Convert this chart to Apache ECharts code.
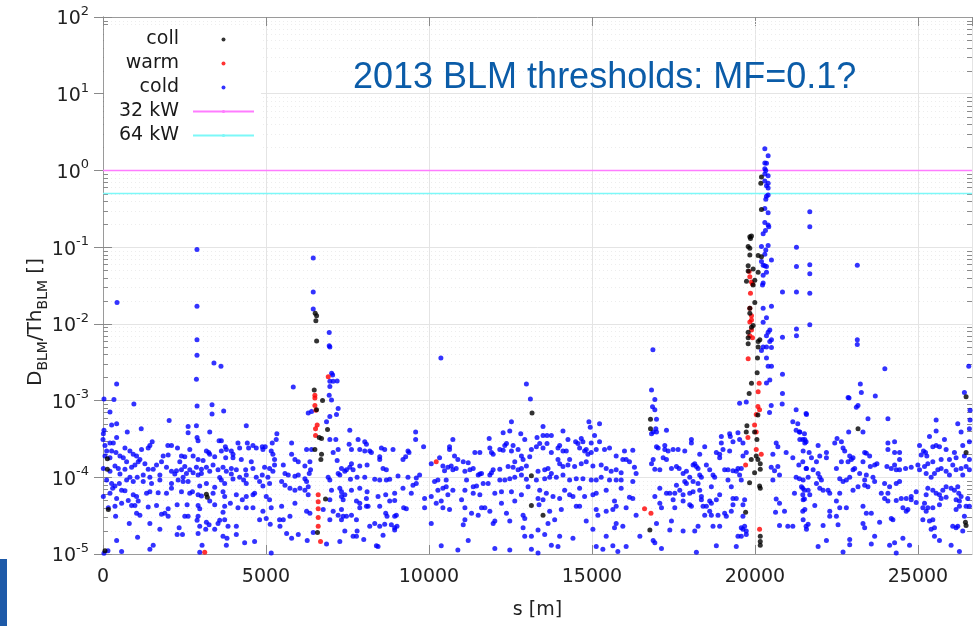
<!DOCTYPE html>
<html>
<head>
<meta charset="utf-8">
<title>2013 BLM thresholds</title>
<script src="https://cdn.jsdelivr.net/npm/echarts@6/dist/echarts.min.js"></script>
<style>
html, body { margin: 0; padding: 0; background: #fff; }
#chart { width: 978px; height: 626px; }
</style>
</head>
<body>
<div id="chart"></div>
<script>
// axis ranges / tick labels
var sMax = 26659;
var xStep = 5000;
var yDecades = [-5, -4, -3, -2, -1, 0, 1];

// threshold lines (32 kW / 64 kW)
var thresholdNames = ['32 kW', '64 kW'];
var thresholdValues = [1.0, 0.5];

// [s in m, D/Th]
var coll = [
  [133,1.75e-4],[133,1.27e-4],[163,3.8e-5],[3172,6.0e-5],[3200,5.5e-5],[61,1.1e-5],
  [6480,1.37e-3],[6735,1.0e-3],[6551,7.6e-4],[6888,4.2e-4],[6633,3.3e-4],[6704,3.2e-4],[6500,2.3e-4],[6704,2.0e-4],[6684,1.7e-4],[6826,5.2e-5],[6580,1.9e-5],
  [6510,0.0138],[6553,0.0128],[6530,0.011],[6553,6.0e-3],
  [13162,6.9e-4],[13142,1.05e-4],[13142,4.3e-5],[13499,3.2e-5],
  [16796,5.7e-4],[16796,4.3e-4],[16776,2.05e-5],
  [20200,0.82],[20180,0.68],[20200,0.31],[19843,0.137],[19894,0.14],[19863,0.13],[19792,0.102],[19843,0.097],[19843,0.079],[20098,0.078],[20200,0.075],
  [19792,0.057],[19945,0.052],[19792,0.049],[20098,0.047],[19741,0.036],[19996,0.037],[19945,0.032],[19996,0.019],[19843,0.016],[19843,0.0137],
  [19945,9.5e-3],[19894,9e-3],[19792,7.8e-3],[19792,6.6e-3],[19792,5.5e-3],[20098,5.9e-3],[20150,6.2e-3],[20098,5e-3],[20078,3.6e-3],[20068,2.3e-3],[19894,1.68e-3],[19823,1.24e-3],
  [20091,6.5e-4],[19754,4.7e-4],[19989,3.9e-4],[20060,3.1e-4],[19734,3.9e-4],[20040,1.9e-4],[19887,1.7e-4],[20091,1.7e-4],[20163,1.5e-4],[20163,1.27e-4],[19989,1.15e-4],
  [19836,8.5e-5],[20142,7.7e-5],[20163,7.2e-5],[19714,3.5e-5],[20163,1.7e-5],[20163,1.45e-5],[20163,1.3e-5],
  [23162,4.3e-4],[26477,1.12e-3],[26477,2.1e-4],[26457,2.6e-5],[26477,2.35e-5]
];

var warm = [
  [3120,1.05e-5],
  [6500,1.17e-3],[6500,1.08e-3],[6500,8.6e-4],[6530,7.5e-4],[6570,4.8e-4],[6520,4.3e-4],[6520,3.5e-4],[6602,5.9e-5],[6602,4.8e-5],[6602,3.9e-5],[6602,3.0e-5],[6602,2.3e-5],[6673,1.45e-5],[6910,2.05e-3],
  [10223,1.6e-4],[16613,3.9e-5],[16810,3.4e-5],
  [19823,0.048],[19843,0.041],[19894,0.035],[19925,0.033],[19863,0.025],[19843,0.016],[19894,0.0128],[19894,0.0112],[19843,0.0106],[19894,8.3e-3],[19925,6.6e-3],[19843,7e-3],[19792,3.5e-3],[20130,1.68e-3],[20098,1.3e-3],
  [20091,8.4e-4],[20142,7.6e-4],[20040,6.6e-4],[19989,4.8e-4],[20040,3.9e-4],[19785,3.3e-4],[20040,2.3e-4],[20193,2.0e-4],[19714,1.45e-4],[20142,2.1e-5]
];

var cold0to5k = [
  [430,0.019],[2883,0.093],[2883,0.017],[2883,6.2e-3],[2883,3.9e-3],[3404,3.1e-3],[3619,2.8e-3],
  [418,1.65e-3],[336,1.03e-3],[30,1.05e-3],[948,9e-4],[2866,1.9e-3],[2886,8.5e-4],[3345,8.8e-4],[3345,6.7e-4],[3702,7.3e-4],[214,7.1e-4],[2030,5.5e-4],[30,4.1e-4],[265,4.8e-4],[418,5.0e-4],[1173,4.3e-4],[2611,4.6e-4],[2611,3.8e-4],[2866,4.7e-4],[3274,3.9e-4],[4396,4.7e-4],[5334,3.7e-4],[10,3.7e-4],[0,3.1e-4],[418,3.3e-4],[744,3.9e-4],[2886,3.3e-4],[2917,3.0e-4],[3560,3.0e-4],[3631,3.0e-4],[3753,2.5e-4],[1509,2.9e-4],[1438,2.6e-4],[1989,2.6e-4],[2101,2.6e-4],[4141,2.8e-4],[4427,2.8e-4],[4600,2.6e-4],[4886,2.5e-4],[5192,2.8e-4],[5314,3.1e-4],[214,2.8e-4],[316,2.8e-4],[61,2.6e-4],
  [112,2.2e-4],[265,2.2e-4],[398,2.1e-4],[673,2.4e-4],[826,2.2e-4],[1183,2.3e-4],[1387,2.4e-4],[2285,2.4e-4],[2662,2.3e-4],[3172,2.2e-4],[3243,2.1e-4],[3631,2.2e-4],[3784,2.3e-4],[3937,2.2e-4],[3988,2.0e-4],[4192,2.4e-4],[4467,2.4e-4],[4702,2.4e-4],[4906,2.3e-4],[4977,2.5e-4],[5161,2.2e-4],[520,1.9e-4],[622,1.8e-4],[928,2.0e-4],[1030,1.9e-4],[1846,1.9e-4],[1999,1.95e-4],[2407,1.9e-4],[2509,1.85e-4],[2764,1.9e-4],[2917,1.7e-4],[3070,1.65e-4],[3274,2.0e-4],[3427,1.85e-4],[3764,1.8e-4],[3988,1.8e-4],[4243,1.7e-4],[4549,1.6e-4],[5212,2.0e-4],[5263,1.7e-4],[61,1.9e-4],[214,1.8e-4],[724,1.6e-4],[1081,1.6e-4],[1132,1.7e-4],[2356,1.6e-4],[1795,1.6e-4],
  [367,1.4e-4],[469,1.3e-4],[673,1.27e-4],[877,1.35e-4],[979,1.45e-4],[1285,1.5e-4],[1387,1.27e-4],[1540,1.27e-4],[1642,1.45e-4],[1948,1.35e-4],[2101,1.2e-4],[2254,1.22e-4],[2407,1.25e-4],[2509,1.38e-4],[2662,1.25e-4],[2866,1.35e-4],[3019,1.27e-4],[3172,1.35e-4],[3376,1.45e-4],[3529,1.25e-4],[3682,1.35e-4],[3784,1.2e-4],[3937,1.3e-4],[4090,1.25e-4],[4376,1.25e-4],[4600,1.3e-4],[4957,1.35e-4],[5110,1.3e-4],[5263,1.45e-4],[10,1.3e-4],[214,1.2e-4],[520,1.1e-4],[826,1.0e-4],[1050,1.0e-4],[1234,1.07e-4],[1438,1.0e-4],[1744,1.07e-4],[2203,1.1e-4],[2458,1.0e-4],[2560,1.12e-4],[2764,1.15e-4],[2917,1.07e-4],[3019,1.12e-4],[3274,1.2e-4],[3580,9.9e-5],[3937,1.1e-4],[4192,1.0e-4],[4396,1.07e-4],[4702,1.0e-4],[4886,1.07e-4],[5059,1.0e-4],[5212,1.2e-4],
  [112,9.2e-5],[265,8.3e-5],[367,7.7e-5],[500,8.3e-5],[724,9.2e-5],[928,8.8e-5],[1234,8.8e-5],[1489,8.3e-5],[1744,9.2e-5],[2101,8.3e-5],[2305,9.2e-5],[2458,8.8e-5],[2611,8.8e-5],[2968,7.7e-5],[3172,8.3e-5],[3427,7.4e-5],[3631,9.2e-5],[3733,8.3e-5],[3988,9.5e-5],[4314,9.2e-5],[4396,8.3e-5],[4804,8.8e-5],[4906,7.7e-5],[5110,8.3e-5],
  [296,7.2e-5],[571,6.8e-5],[214,6.2e-5],[673,6.7e-5],[928,5.9e-5],[1030,5.6e-5],[1336,6.2e-5],[1438,6.5e-5],[1693,6.3e-5],[1948,6.2e-5],[2101,7.2e-5],[2407,6.5e-5],[2662,6.2e-5],[2744,6.5e-5],[2917,5.9e-5],[3019,5.7e-5],[3376,6.2e-5],[3682,6.5e-5],[3733,5.6e-5],[4090,5.9e-5],[4396,5.6e-5],[4600,5.9e-5],[4651,6.2e-5],[5008,5.6e-5],[5110,5.1e-5],[10,5.6e-5],[418,5.3e-5],[571,4.6e-5],[775,5.0e-5],
  [163,4.0e-5],[367,4.2e-5],[877,4.3e-5],[979,4.3e-5],[1081,4.9e-5],[1387,4.1e-5],[1642,4.3e-5],[1999,3.9e-5],[2274,4.4e-5],[2580,4.4e-5],[2917,4.3e-5],[2968,3.9e-5],[3274,4.9e-5],[3427,4.4e-5],[3733,4.2e-5],[3906,4.6e-5],[4141,4.0e-5],[4274,5.1e-5],[4396,4.0e-5],[4600,4.0e-5],[4906,3.6e-5],[5161,4.0e-5],[387,3.1e-5],[1030,3.4e-5],[1132,3.2e-5],[1795,3.3e-5],[1897,3.4e-5],[1999,3.1e-5],[2509,3.1e-5],[2611,3.1e-5],[2917,3.1e-5],[3682,3.5e-5],
  [806,2.5e-5],[1438,2.5e-5],[2886,2.75e-5],[2968,2.3e-5],[3172,2.6e-5],[3254,2.4e-5],[3529,2.5e-5],[3580,2.75e-5],[3733,2.8e-5],[3835,2.3e-5],[4090,2.3e-5],[4804,2.8e-5],[5008,2.9e-5],[5130,2.45e-5],[5416,2.8e-5],[1744,2.1e-5],[2336,2.2e-5],[2438,1.8e-5],[2274,1.8e-5],[2917,1.85e-5],[3152,2.1e-5],[3427,2.1e-5],
  [418,1.5e-5],[1061,1.65e-5],[1540,1.3e-5],[1438,1.15e-5],[571,1.08e-5],[153,1.1e-5],[2968,1.05e-5],[3039,1.3e-5],[3682,1.7e-5],[3804,1.6e-5],[3784,1.3e-5],[4090,1.8e-5],[4345,1.4e-5],[4651,1.45e-5],[5161,1.03e-5],[30,1.02e-5]
];

var cold5kto11k = [
  [6450,0.072],[6450,0.026],[6450,0.0156],[6940,7.7e-3],[6940,5.2e-3],[6960,5.0e-3],[7014,2.27e-3],[7045,2.15e-3],[6960,1.78e-3],[7060,1.78e-3],[7183,1.8e-3],[6960,1.52e-3],[5837,1.5e-3],[10366,3.6e-3],
  [6939,1.17e-3],[7010,1.02e-3],[7214,7.9e-4],[7163,6.6e-4],[6296,6.9e-4],[6398,7.2e-4],[6959,6.2e-4],[6857,5.3e-4],[6959,3.1e-4],[7143,3.1e-4],[7571,4.1e-4],[7551,2.7e-4],[7622,2.3e-4],[7826,3.1e-4],[8030,2.9e-4],[8081,2.7e-4],[7877,2.3e-4],[8030,2.2e-4],[8183,2.2e-4],[8234,2.1e-4],[8540,2.4e-4],[8642,2.3e-4],[8897,2.3e-4],[9356,2.2e-4],[9591,3.9e-4],[9591,3.1e-4],[9835,2.5e-4],[5786,2.8e-4],[5786,2.0e-4],[5888,1.7e-4],[5990,1.6e-4],[6245,2.3e-4],[6398,2.3e-4],[6347,1.6e-4],[7061,2.1e-4],[7214,2.3e-4],[7183,1.65e-4],[7469,1.25e-4],[7571,1.35e-4],[7622,1.5e-4],[7673,1.25e-4],[7418,1.2e-4],[7316,1.3e-4],[7265,1.07e-4],[7877,1.4e-4],[8101,1.45e-4],[8489,1.7e-4],[8489,1.85e-4],[8591,1.3e-4],[8693,1.25e-4],[9203,1.7e-4],[9285,1.85e-4],[9387,2.1e-4],
  [5531,1.45e-4],[5582,1.12e-4],[5684,1.07e-4],[5888,1.03e-4],[5990,1.07e-4],[6194,9.6e-5],[6245,8.8e-5],[6327,1.12e-4],[6367,1.25e-4],[6194,1.4e-4],[5480,8.8e-5],[5582,7.9e-5],[5735,7.2e-5],[5888,6.8e-5],[6041,7.2e-5],[6194,6.8e-5],[6296,7.5e-5],[6908,1.0e-4],[6959,9.2e-5],[7214,1.12e-4],[7591,9.4e-5],[7795,1.0e-4],[8030,1.0e-4],[8336,9.4e-5],[8489,9.2e-5],[8693,9.2e-5],[8795,9.4e-5],[9050,1.04e-4],[9356,1.0e-4],[9611,9.8e-5],[9713,1.07e-4],
  [7010,6.8e-5],[7265,7.2e-5],[7316,6.5e-5],[7418,5.9e-5],[7622,6.8e-5],[7877,7.2e-5],[8101,6.5e-5],[8438,5.6e-5],[8673,5.9e-5],[8948,6.2e-5],[9203,7.2e-5],[9509,7.9e-5],[9611,8.3e-5],[9458,6.2e-5],[8795,4.9e-5],[8948,5.0e-5],[8081,5.3e-5],[8132,4.2e-5],[7877,4.6e-5],[7775,4.9e-5],[7316,5.6e-5],[7367,5.1e-5],[6959,5.1e-5],[5888,4.6e-5],[5480,4.2e-5],[6296,5.9e-5],[6245,3.6e-5],
  [7214,3.2e-5],[7316,2.8e-5],[7367,3.1e-5],[7469,3.1e-5],[7622,3.2e-5],[7775,2.8e-5],[7316,3.8e-5],[6755,3.8e-5],[7061,3.6e-5],[7877,4.0e-5],[8081,4.2e-5],[8489,4.2e-5],[8673,3.4e-5],[8713,3.1e-5],[8948,3.1e-5],[8999,3.2e-5],[9223,4.0e-5],[9305,3.9e-5],[9866,5.3e-5],[9866,4.0e-5],
  [5735,3.1e-5],[5531,2.8e-5],[5429,2.3e-5],[6347,3.4e-5],[6959,2.8e-5],[8183,2.3e-5],[8336,2.5e-5],[8642,2.45e-5],[8846,2.4e-5],[8948,2.2e-5],[9019,2.3e-5],[8948,2.05e-5],[8489,2.3e-5],[7795,2.0e-5],[7775,1.7e-5],[7673,1.7e-5],[7999,1.55e-5],[7418,2.0e-5],[7265,1.45e-5],[6857,1.35e-5],[6449,1.9e-5],[6265,1.5e-5],[5990,1.8e-5],[5786,1.6e-5],[5633,1.85e-5],[8387,1.28e-5],[8438,1.25e-5],[8591,1.75e-5],
  [10070,1.5e-4],[10325,1.8e-4],[10427,1.4e-4],[10580,1.35e-4],[10682,1.4e-4],[10733,1.25e-4],[10835,1.3e-4],[10478,1.22e-4],[10274,9.2e-5],[10274,6.8e-5],[10427,7.2e-5],[10529,7.5e-5],[10580,5.9e-5],[10733,6.8e-5],[10070,5.6e-5],[10223,4.6e-5],[10376,4.9e-5],[10427,4.0e-5],[10631,3.8e-5],[10529,9.2e-5],[10070,2.5e-5],[10376,1.28e-5],[10886,1.13e-5],[10172,8.8e-5],[10631,2.3e-4],[10733,3.1e-4],[10631,2.5e-4],[10784,1.9e-4],[10886,1.7e-4]
];

var cold11kto16k = [
  [12989,1.65e-3],[13111,1.05e-3],[12530,5.3e-4],[12275,3.8e-4],[12479,4.0e-4],[11847,3.2e-4],[12816,3.7e-4],[13499,4.6e-4],[13621,3.5e-4],[13754,3.5e-4],[13499,3.5e-4],[13315,3.3e-4],[14111,4.0e-4],[14264,3.1e-4],[14499,2.9e-4],[14672,3.2e-4],[14723,2.9e-4],[14907,5.3e-4],[14947,4.5e-4],[15233,5.0e-4],[15080,3.5e-4],[14978,2.8e-4],[15233,2.9e-4],
  [11408,2.1e-4],[11561,2.1e-4],[11867,2.4e-4],[11918,2.1e-4],[11969,2.0e-4],[12173,2.3e-4],[12275,2.25e-4],[12326,2.6e-4],[12377,2.75e-4],[12530,2.2e-4],[12581,2.6e-4],[12734,2.3e-4],[12938,3.1e-4],[13142,2.3e-4],[13295,2.5e-4],[13397,2.75e-4],[13499,2.4e-4],[13621,2.75e-4],[13754,2.1e-4],[13958,2.4e-4],[14009,2.6e-4],[14111,2.2e-4],[14213,2.2e-4],[14570,2.75e-4],[14621,2.4e-4],[14774,2.2e-4],[14825,2.3e-4],[14876,2.0e-4],[14978,2.1e-4],[15131,2.3e-4],[15386,2.3e-4],[15539,2.4e-4],[15743,1.9e-4],[15998,2.2e-4],[16253,2.25e-4],[16049,1.7e-4],[16151,1.6e-4],[15947,1.7e-4],
  [11051,1.6e-4],[11204,1.55e-4],[11102,1.2e-4],[11255,1.25e-4],[11357,1.3e-4],[11510,1.07e-4],[11561,1.1e-4],[11612,1.12e-4],[11867,1.07e-4],[11918,1.15e-4],[11969,1.25e-4],[12173,1.27e-4],[12428,1.38e-4],[12581,1.35e-4],[12632,1.6e-4],[12836,1.9e-4],[12887,1.7e-4],[12734,1.25e-4],[12836,1.3e-4],[12989,1.4e-4],[13091,1.85e-4],[13346,1.2e-4],[13550,1.25e-4],[13652,1.3e-4],[13754,1.12e-4],[13958,1.7e-4],[14009,1.5e-4],[14111,1.38e-4],[14264,1.45e-4],[14315,1.7e-4],[14468,1.38e-4],[14672,1.5e-4],[14825,1.6e-4],[15029,1.4e-4],[15284,1.45e-4],[15437,1.3e-4],[15590,1.2e-4],[15743,1.25e-4],[15896,1.15e-4],[16304,1.35e-4],[16355,1.12e-4],
  [11153,9.2e-5],[11357,7.5e-5],[11459,7.7e-5],[11663,8.3e-5],[11816,8.3e-5],[12173,9.2e-5],[12326,9.2e-5],[12479,9.6e-5],[12632,1.0e-4],[12836,1.07e-4],[12989,9.4e-5],[13295,9.2e-5],[13550,9.6e-5],[13703,1.0e-4],[13907,1.0e-4],[14111,1.07e-4],[14315,9.2e-5],[14519,9.6e-5],[14723,9.6e-5],[14978,9.2e-5],[15131,9.2e-5],[15284,1.0e-4],[15539,9.2e-5],[15743,9.2e-5],[15896,9.2e-5],[16253,8.8e-5],
  [11102,6.8e-5],[11357,6.2e-5],[11561,5.9e-5],[12020,6.2e-5],[12224,6.5e-5],[12530,6.5e-5],[12836,5.9e-5],[13040,7.5e-5],[13397,6.8e-5],[13601,6.2e-5],[13805,5.6e-5],[14009,5.3e-5],[14162,6.8e-5],[14315,5.9e-5],[14417,5.6e-5],[14621,7.2e-5],[14774,5.6e-5],[15029,5.9e-5],[15131,6.2e-5],[15437,6.8e-5],[15692,4.9e-5],[15896,7.2e-5],[16151,5.5e-5],[16253,5.3e-5],
  [11000,5.1e-5],[11102,4.0e-5],[11306,3.4e-5],[11510,3.2e-5],[11612,4.0e-5],[11714,4.0e-5],[11867,3.6e-5],[12224,4.6e-5],[12377,3.4e-5],[12632,4.9e-5],[12887,3.2e-5],[12938,2.9e-5],[13346,5.3e-5],[13377,4.4e-5],[13499,5.1e-5],[13703,3.6e-5],[13856,2.8e-5],[13652,2.5e-5],[14060,3.8e-5],[14519,4.2e-5],[14621,4.2e-5],[15131,3.8e-5],[15182,3.2e-5],[15437,3.6e-5],[15641,3.8e-5],[15743,4.2e-5],[16049,4.0e-5],[16355,3.2e-5],
  [11102,2.8e-5],[11051,2.4e-5],[11969,2.5e-5],[12020,2.7e-5],[12479,2.7e-5],[12887,2.2e-5],[12938,1.7e-5],[13142,1.7e-5],[13346,2.05e-5],[13550,1.8e-5],[13754,1.3e-5],[13958,1.25e-5],[14009,1.7e-5],[14417,1.6e-5],[14825,2.7e-5],[15029,2.1e-5],[15437,1.7e-5],[15692,2.2e-5],[15743,2.5e-5],[15947,2.3e-5],[15641,1.28e-5],[15794,1.08e-5],[16049,1.25e-5],[11204,1.5e-5],[12020,1.18e-5],[12479,1.13e-5],[13142,1.15e-5],[13346,1.03e-5],[15131,1.25e-5],[15335,1.15e-5]
];

var cold16kto21k = [
  [16827,1.37e-3],[16929,1.03e-3],[16858,8.3e-4],[16929,7.6e-4],[16980,5.7e-4],[16960,4.3e-4],[16878,3.9e-4],[16827,3.7e-4],[16980,3.9e-4],[17286,4.1e-4],[16870,4.6e-3],[19530,9.2e-4],[19734,9.6e-4],
  [21264,7.6e-4],[21570,6.8e-4],[21162,5.3e-4],[21315,5.0e-4],[21264,4.1e-4],[21366,3.9e-4],[21519,3.7e-4],[21468,3.1e-4],[21570,2.9e-4],[20652,2.8e-4],[20703,2.5e-4],[20958,2.1e-4],[21162,1.8e-4],[21468,1.6e-4],[21346,1.45e-4],[21570,1.3e-4],[20550,2.0e-4],[20499,1.35e-4],[20601,1.22e-4],[20703,1.38e-4],[20754,1.07e-4],[20550,9.2e-5],[21264,1.0e-4],[21366,9.6e-5],[21468,7.2e-5],[21519,6.8e-5],[21213,6.2e-5],[21468,5.9e-5],[21519,5.2e-5],[20652,5.2e-5],[20754,4.6e-5],[20907,3.6e-5],[21468,3.6e-5],[20632,3.5e-5],[21570,2.3e-5],[20754,2.35e-5],[21009,2.3e-5],[21162,2.3e-5],
  [16980,2.5e-4],[17031,2.4e-4],[17235,2.3e-4],[17235,2.6e-4],[17337,2.2e-4],[17490,2.3e-4],[17643,2.3e-4],[17847,2.2e-4],[18051,3.1e-4],[18051,2.8e-4],[18306,2.0e-4],[18459,2.5e-4],[18816,2.1e-4],[18918,2.0e-4],[18918,1.8e-4],[19020,2.3e-4],[18969,3.4e-4],[18969,2.8e-4],[19224,3.7e-4],[19244,3.4e-4],[19326,2.9e-4],[19479,3.8e-4],[19530,3.1e-4],[19632,2.8e-4],[19632,1.9e-4],[19734,2.1e-4],[19224,2.2e-4],
  [16878,1.7e-4],[16827,1.5e-4],[16929,1.27e-4],[17082,1.25e-4],[17184,1.8e-4],[17286,1.7e-4],[17439,1.3e-4],[17592,1.38e-4],[17674,1.3e-4],[17796,1.12e-4],[17898,1.2e-4],[18000,1.0e-4],[18102,1.45e-4],[18153,1.5e-4],[18204,1.38e-4],[18255,1.3e-4],[18306,1.07e-4],[18357,1.0e-4],[18510,1.45e-4],[18612,1.25e-4],[18714,1.07e-4],[18765,1.0e-4],[19071,1.25e-4],[19173,1.25e-4],[19173,9.2e-5],[19326,1.22e-4],[19428,1.2e-4],[19479,1.3e-4],[19581,1.3e-4],[19530,1.07e-4],[19581,9.2e-5],[19275,7.5e-5],[17592,7.9e-5],[17694,6.8e-5],[17847,8.8e-5],[17898,8.3e-5],[18102,8.8e-5],[18255,8.3e-5],[18306,6.8e-5],[18663,7.5e-5],
  [17082,7.2e-5],[17286,6.2e-5],[17388,6.2e-5],[17541,6.2e-5],[17796,5.9e-5],[18000,6.2e-5],[18102,6.5e-5],[16929,5.6e-5],[17082,4.6e-5],[17133,4.0e-5],[17490,5.1e-5],[17541,4.0e-5],[17796,4.9e-5],[18000,4.4e-5],[18051,4.2e-5],[18357,5.6e-5],[18357,5.1e-5],[18408,4.2e-5],[18510,4.2e-5],[18612,4.9e-5],[18663,4.6e-5],[18816,5.1e-5],[18918,5.9e-5],[19326,5.3e-5],[19428,5.3e-5],[19326,4.4e-5],[19683,5.1e-5],[19632,4.4e-5],[18612,3.6e-5],[18459,3.2e-5],[18663,3.2e-5],[18867,3.2e-5],[19071,3.4e-5],[19122,3.1e-5],[19275,3.6e-5],[19632,3.1e-5],[19683,2.3e-5],[19581,2.2e-5],[19632,2.1e-5],[18714,2.3e-5],[18918,2.3e-5],[18255,2.3e-5],[18153,2.0e-5],[17796,2.0e-5],[17388,2.05e-5],[16980,2.5e-5],[17439,2.7e-5],[16470,1.7e-5],[16878,1.5e-5],[16929,1.4e-5],[17133,1.18e-5],[18204,1.05e-5],[18816,1.28e-5],[19428,1.25e-5],[19479,1.7e-5],[19581,1.7e-5],[19734,1.8e-5],[19734,2.0e-5]
];

var coldPeak = [
  [20303,1.92],[20405,1.55],[20303,1.25],[20354,1.24],[20303,1.05],[20333,1.0],[20303,0.9],[20405,0.85],[20303,0.73],[20405,0.68],[20354,0.63],[20405,0.59],[20354,0.46],[20405,0.48],[20333,0.42],[20303,0.32],[20405,0.28],[20303,0.21],[20405,0.195],[20425,0.185],[20252,0.15],[20323,0.165],
  [20200,0.102],[20405,0.105],[20333,0.092],[20303,0.081],[20507,0.068],[20200,0.065],[20252,0.058],[20303,0.057],[20354,0.056],[20354,0.047],[20252,0.043],[20252,0.034],[20232,0.032],[20252,0.016],[20507,0.017],[20354,0.012],[20252,0.0105],
  [20456,8.3e-3],[20405,7.8e-3],[20354,7e-3],[20507,6.2e-3],[20456,5.9e-3],[20252,5e-3],[20354,5e-3],[20507,4.9e-3],[20200,4.5e-3],[20354,3.6e-3],[20405,2.8e-3],[20507,2.8e-3],[20456,1.86e-3],[20354,1.7e-3],
  [21683,0.29],[21683,0.185],[21274,0.1],[21274,0.056],[21683,0.059],[21683,0.045],[20845,0.026],[21274,0.026],[21683,0.025],[21683,9.7e-3],[21274,8.6e-3],[21274,7e-3],[20845,6.7e-3],[20845,2.2e-3],[20845,1.24e-3],[22858,1.1e-3],
  [20836,9e-4],[20499,8.6e-4],[20448,7e-4]
];

var cold21kto27k = [
  [23140,0.058],[23140,6.2e-3],[23140,5.4e-3],[23985,2.6e-3],[26560,2.8e-3],
  [23233,1.65e-3],[23264,1.27e-3],[22887,1.08e-3],[23162,8.6e-4],[23111,8.2e-4],[23692,1.15e-3],[23468,5.8e-4],[24080,5.8e-4],[23315,3.9e-4],[22876,3.9e-4],[21581,6.6e-4],[25559,5.6e-4],[25559,4.0e-4],[25355,3.4e-4],[26222,5.0e-4],[26324,3.9e-4],[26426,1.27e-3],[26599,7.5e-4],[26599,5.6e-4],[26579,4.3e-4],[26579,2.9e-4],[26579,1.7e-4],[26579,1.25e-4],
  [21377,3.9e-4],[21377,3.1e-4],[21530,3.1e-4],[21530,2.8e-4],[21479,2.2e-4],[21663,2.1e-4],[21938,2.6e-4],[21734,1.8e-4],[21887,1.6e-4],[21989,1.9e-4],[22193,2.1e-4],[22193,1.8e-4],[22448,2.8e-4],[22519,3.2e-4],[22652,2.9e-4],[22703,2.4e-4],[22754,2.2e-4],[22907,1.9e-4],[22958,1.7e-4],[23009,1.8e-4],[22856,1.6e-4],[22652,1.6e-4],[22499,1.3e-4],[22601,9.6e-5],[22703,8.8e-5],[22805,9.2e-5],[22907,1.0e-4],[23009,1.25e-4],[23060,1.3e-4],[23213,1.12e-4],[23315,1.6e-4],[23366,2.1e-4],[23417,2.05e-4],[23519,1.9e-4],[23539,1.38e-4],[23672,1.45e-4],[23417,1.07e-4],[23366,9.2e-5],[23621,1.0e-4],[23743,1.5e-4],
  [24080,2.8e-4],[24080,2.3e-4],[24284,2.9e-4],[24284,2.1e-4],[24437,2.1e-4],[24437,1.7e-4],[24284,1.45e-4],[24049,1.38e-4],[24182,1.3e-4],[24335,1.25e-4],[24437,1.25e-4],[24621,1.3e-4],[24794,1.35e-4],[25049,2.6e-4],[25171,2.2e-4],[25233,2.1e-4],[25100,1.95e-4],[25273,1.9e-4],[25457,2.5e-4],[25559,2.6e-4],[25661,2.5e-4],[25814,3.1e-4],[25865,2.3e-4],[26120,2.1e-4],[26171,1.8e-4],[26375,2.6e-4],[26426,1.9e-4],[26477,1.38e-4],[26069,1.45e-4],[25967,1.7e-4],[25712,1.7e-4],[25457,1.6e-4],[25304,1.5e-4],[25202,1.38e-4],[24998,1.45e-4],[25049,1.25e-4],[25253,1.12e-4],[25406,1.0e-4],[25508,1.12e-4],[25610,1.25e-4],[25712,1.3e-4],[25865,1.2e-4],[25967,1.07e-4],[26171,1.25e-4],[26324,1.3e-4],[26375,1.07e-4],
  [21581,1.3e-4],[21785,1.25e-4],[21632,1.0e-4],[21938,1.12e-4],[21989,1.0e-4],[22040,9.2e-5],[21479,9.2e-5],[21428,7.5e-5],[21632,6.8e-5],[21683,5.9e-5],[21887,8.3e-5],[21989,7.2e-5],[22091,6.8e-5],[22244,6.8e-5],[22295,6.2e-5],[22601,6.2e-5],[22499,4.9e-5],[22601,4.0e-5],[22805,4.0e-5],[23009,6.8e-5],[23162,7.5e-5],[23366,7.9e-5],[23468,7.5e-5],[23672,8.8e-5],[23978,8.3e-5],[24131,7.5e-5],[24335,8.3e-5],[24437,8.8e-5],[24080,6.2e-5],[23978,5.3e-5],[23876,6.2e-5],[24335,5.0e-5],[24488,5.3e-5],[24641,5.3e-5],[24794,5.6e-5],[24794,5.1e-5],[24641,3.6e-5],[24692,3.8e-5],[24539,4.0e-5],[24182,2.9e-5],[24233,2.8e-5],[24080,4.9e-5],
  [24947,6.5e-5],[25304,7.2e-5],[25457,6.8e-5],[25559,6.2e-5],[25661,5.9e-5],[25763,6.8e-5],[25865,7.5e-5],[26018,7.2e-5],[26120,6.8e-5],[26222,7.5e-5],[26253,6.2e-5],[26324,5.6e-5],[26273,4.9e-5],[26171,5.1e-5],[25865,5.5e-5],[25712,5.3e-5],[25253,5.9e-5],[25202,4.6e-5],[25151,4.0e-5],[24947,4.7e-5],[25304,4.0e-5],[25457,4.0e-5],[25661,4.4e-5],[26273,4.2e-5],[26171,3.8e-5],[26477,4.2e-5],[26528,5.3e-5],
  [21479,5.1e-5],[21530,3.8e-5],[21836,4.3e-5],[21479,2.8e-5],[21632,2.45e-5],[21581,2.1e-5],[22091,2.35e-5],[22295,3.6e-5],[22295,3.1e-5],[22499,3.1e-5],[22550,2.4e-5],[23315,4.2e-5],[23417,3.4e-5],[23570,3.4e-5],[23825,2.6e-5],[23315,2.5e-5],[23366,2.2e-5],[23672,1.7e-5],[23570,1.35e-5],[22907,1.55e-5],[22907,1.32e-5],[22193,1.5e-5],[21938,1.25e-5],[22703,1.06e-5],[24131,1.3e-5],[24284,1.4e-5],[24335,1.03e-5],[24539,1.6e-5],[24743,1.3e-5],[25253,3.6e-5],[25151,2.8e-5],[25355,2.7e-5],[25457,2.8e-5],[25406,2.1e-5],[25508,1.7e-5],[25661,1.5e-5],[25508,2.2e-5],[26069,2.3e-5],[26171,2.2e-5],[26222,2.3e-5],[26375,2.0e-5],[26018,1.3e-5],[26273,1.08e-5],[26426,3.1e-5],[26579,4.2e-5]
];

var cold = [].concat(cold0to5k, cold5kto11k, cold11kto16k, cold16kto21k, coldPeak, cold21kto27k);

var font = 'DejaVu Sans';
var axisGrey = '#9a9a9a';
var tickGrey = '#8a8a8a';

// log minor ticks (2..9 of each decade) on left and right edges, plus faint dotted grid
function renderMinor(params, api) {
  var cs = params.coordSys;
  var x0 = cs.x, x1 = cs.x + cs.width;
  var kids = [];
  yDecades.forEach(function (d) {
    for (var k = 2; k <= 9; k++) {
      var y = Math.round(api.coord([0, k * Math.pow(10, d)])[1]) + 0.5;
      kids.push({ type: 'line', shape: { x1: x0, y1: y, x2: x1, y2: y }, style: { stroke: '#ededed', lineWidth: 1, lineDash: [1, 3] } });
      kids.push({ type: 'line', shape: { x1: x0, y1: y, x2: x0 + 5, y2: y }, style: { stroke: tickGrey, lineWidth: 1 } });
      kids.push({ type: 'line', shape: { x1: x1 - 5, y1: y, x2: x1, y2: y }, style: { stroke: tickGrey, lineWidth: 1 } });
    }
  });
  return { type: 'group', children: kids };
}

function expLabel(v) {
  var e = Math.round(Math.log10(v));
  return '{b|10}{e|' + e + '}';
}

var labelRich = {
  b: { fontSize: 19, fontFamily: font, color: '#222', lineHeight: 24, verticalAlign: 'bottom' },
  e: { fontSize: 13, fontFamily: font, color: '#222', lineHeight: 13, verticalAlign: 'top' }
};

var xAxisBase = {
  type: 'value', min: 0, max: sMax, interval: xStep,
  axisLine: { show: true, onZero: false, lineStyle: { color: axisGrey, width: 1 } },
  axisTick: { show: true, inside: true, length: 9, lineStyle: { color: tickGrey } }
};

var yAxisBase = {
  type: 'log', logBase: 10, min: 1e-5, max: 100, splitNumber: 7,
  axisLine: { show: true, lineStyle: { color: axisGrey, width: 1 } },
  axisTick: { show: true, inside: true, length: 9, lineStyle: { color: tickGrey } }
};

var chart = echarts.init(document.getElementById('chart'));

var series = [];
thresholdNames.forEach(function (name, i) {
  series.push({
    name: name, type: 'line', silent: true, symbol: 'none', showSymbol: false,
    data: [[0, thresholdValues[i]], [sMax, thresholdValues[i]]],
    lineStyle: { color: i === 0 ? '#ff7cff' : '#7cf8f8', width: 1.5 },
    itemStyle: { color: i === 0 ? '#ff7cff' : '#7cf8f8' },
    z: 2
  });
});
series.push({ name: 'cold', type: 'scatter', symbolSize: 5, data: cold, itemStyle: { color: '#0000ff' }, z: 3 });
series.push({ name: 'warm', type: 'scatter', symbolSize: 5, data: warm, itemStyle: { color: '#ff0000' }, z: 4 });
series.push({ name: 'coll', type: 'scatter', symbolSize: 5, data: coll, itemStyle: { color: '#000000' }, z: 5 });
series.push({ type: 'custom', silent: true, renderItem: renderMinor, data: [[0, 1]], z: 1 });

var option = {
  animation: false,
  backgroundColor: '#ffffff',
  grid: { left: 103, right: 6, top: 17, bottom: 72, containLabel: false },
  legend: {
    orient: 'vertical', left: 104, top: 28, align: 'right',
    itemWidth: 61, itemHeight: 4, itemGap: 5,
    backgroundColor: '#ffffff', padding: [2, 6, 6, 0],
    selectedMode: false,
    data: ['coll', 'warm', 'cold', '32 kW', '64 kW'],
    formatter: function (n) { return '{t|' + n + '}'; },
    textStyle: {
      rich: { t: { width: 75, align: 'right', fontSize: 19, lineHeight: 24, fontFamily: font, color: '#1a1a1a', padding: [0, 9, 0, 0] } }
    }
  },
  xAxis: [
    Object.assign({}, xAxisBase, {
      position: 'bottom',
      name: 's [m]', nameLocation: 'middle', nameGap: 47,
      nameTextStyle: { fontSize: 19, fontFamily: font, color: '#222' },
      axisLabel: { margin: 14, fontSize: 19, fontFamily: font, color: '#222', showMaxLabel: false, formatter: function (v) { return String(v); } },
      splitLine: { show: true, lineStyle: { color: '#e4e4e4', width: 1 } }
    }),
    Object.assign({}, xAxisBase, { position: 'top', axisLabel: { show: false }, splitLine: { show: false } })
  ],
  yAxis: [
    Object.assign({}, yAxisBase, {
      position: 'left',
      axisLabel: { margin: 14, formatter: expLabel, rich: labelRich },
      splitLine: { show: true, lineStyle: { color: '#e4e4e4', width: 1 } }
    }),
    Object.assign({}, yAxisBase, { position: 'right', axisLabel: { show: false }, splitLine: { show: false } })
  ],
  graphic: [
    {
      type: 'text', x: 353, y: 78, silent: true, z: 100,
      style: { text: '2013 BLM thresholds: MF=0.1?', fontSize: 36, fontFamily: 'Liberation Sans', fill: '#0b5ca8', align: 'left', verticalAlign: 'middle' }
    },
    {
      type: 'text', x: 38, y: 322, rotation: Math.PI / 2, silent: true, z: 100,
      style: {
        text: '{b|D}{s|BLM}{b|/Th}{s|BLM}{b| []}',
        align: 'center', verticalAlign: 'middle',
        rich: {
          b: { fontSize: 20, fontFamily: font, fill: '#222', lineHeight: 24, verticalAlign: 'top' },
          s: { fontSize: 14, fontFamily: font, fill: '#222', lineHeight: 14, verticalAlign: 'bottom' }
        }
      }
    },
    { type: 'rect', silent: true, z: 100, shape: { x: 0, y: 559, width: 7, height: 67 }, style: { fill: '#1e5aa8' } }
  ],
  series: series
};

chart.setOption(option);
</script>
</body>
</html>
